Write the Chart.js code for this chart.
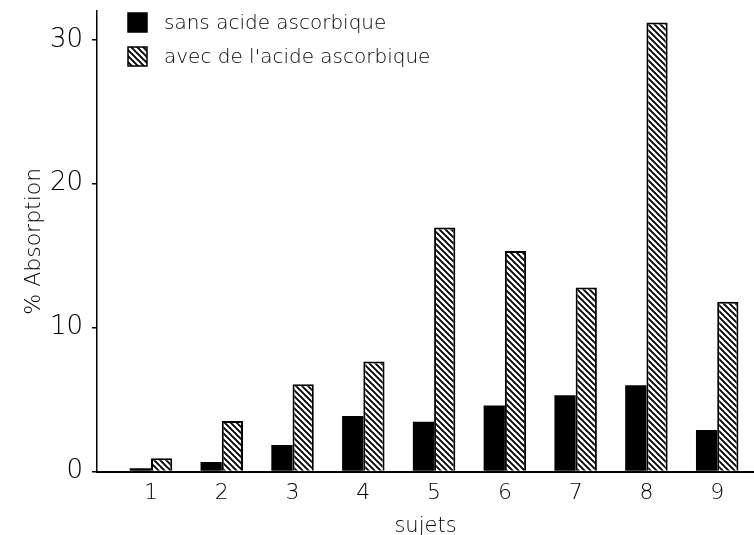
<!DOCTYPE html>
<html>
<head>
<meta charset="utf-8">
<script src="https://cdn.jsdelivr.net/npm/chart.js@4"></script>
<style>
  html, body { margin: 0; padding: 0; background: #fff; overflow: hidden; }
  #wrap { width: 754px; height: 535px; }
</style>
</head>
<body>
<div id="wrap"><canvas id="chart" width="754" height="535"></canvas></div>
<script>
const subjects   = [1, 2, 3, 4, 5, 6, 7, 8, 9];
const sansAcide  = [0.22, 0.66, 1.84, 3.86, 3.46, 4.58, 5.3, 6.0, 2.89];
const avecAcide  = [0.92, 3.51, 6.06, 7.64, 16.95, 15.33, 12.78, 31.2, 11.8];
const yTicks     = [0, 10, 20, 30];
const seriesNames = ['sans acide ascorbique', "avec de l'acide ascorbique"];

const FONT = '"DejaVu Sans", sans-serif';
const W = 200; // thin weight, like the printed figure

// diagonal hatch like the printed figure
function hatch() {
  const c = document.createElement('canvas');
  c.width = 6; c.height = 6;
  const g = c.getContext('2d');
  g.fillStyle = '#fff';
  g.fillRect(0, 0, 6, 6);
  g.strokeStyle = '#000';
  g.lineWidth = 1.9;
  g.beginPath();
  g.moveTo(-1, -1); g.lineTo(7, 7);
  g.moveTo(-4, 2); g.lineTo(4, 10);
  g.moveTo(2, -4); g.lineTo(10, 4);
  g.stroke();
  return g.createPattern(c, 'repeat');
}
const hatchFill = hatch();

const legendInside = {
  id: 'legendInside',
  afterDraw(chart) {
    const ctx = chart.ctx;
    ctx.save();
    chart.data.datasets.forEach(function (ds, i) {
      const x = 128, y = 13 + i * 34;
      ctx.fillStyle = ds.backgroundColor;
      ctx.fillRect(x, y, 19, 19);
      ctx.strokeStyle = '#000';
      ctx.lineWidth = 1.5;
      ctx.strokeRect(x, y, 19, 19);
      ctx.fillStyle = '#000';
      ctx.font = W + ' 20px ' + FONT;
      ctx.textBaseline = 'middle';
      ctx.fillText(ds.label, 164, y + 11);
    });
    ctx.restore();
  }
};

new Chart(document.getElementById('chart').getContext('2d'), {
  type: 'bar',
  data: {
    datasets: [
      {
        label: seriesNames[0],
        data: subjects.map((s, i) => ({ x: s, y: sansAcide[i] })),
        backgroundColor: '#000',
        borderWidth: 0,
      },
      {
        label: seriesNames[1],
        data: subjects.map((s, i) => ({ x: s, y: avecAcide[i] })),
        backgroundColor: hatchFill,
        borderColor: '#000',
        borderWidth: 2,
      },
    ],
  },
  options: {
    responsive: false,
    animation: false,
    devicePixelRatio: 1,
    layout: { padding: { top: 11, left: 0, right: 0, bottom: 0 } },
    datasets: { bar: { categoryPercentage: 0.6, barPercentage: 1.0 } },
    plugins: { legend: { display: false }, tooltip: { enabled: false } },
    scales: {
      x: {
        type: 'linear',
        offset: false,
        min: 0.237,
        max: 9.52,
        afterBuildTicks: s => { s.ticks = subjects.map(v => ({ value: v })); },
        afterFit: s => { s.height = 63.5; s.paddingLeft = 0; s.paddingRight = 0; },
        grid: { display: false },
        border: { display: true, color: '#000', width: 2 },
        ticks: { color: '#000', padding: 1, font: { family: FONT, size: 22, weight: W } },
        title: {
          display: true, text: 'sujets', color: '#000', padding: { top: 0, bottom: 0 },
          font: { family: FONT, size: 21, weight: W, lineHeight: 0.8 },
        },
      },
      y: {
        min: 0,
        max: 32,
        afterBuildTicks: s => { s.ticks = yTicks.map(v => ({ value: v })); },
        afterFit: s => { s.width = 97; s.paddingTop = 0; s.paddingBottom = 0; },
        grid: { drawOnChartArea: false, drawTicks: true, tickLength: 5, color: '#000', lineWidth: 1.5 },
        border: { display: true, color: '#000', width: 1.5, dash: [8, 3] },
        ticks: { color: '#000', padding: 9, font: { family: FONT, size: 26, weight: W } },
        title: {
          display: true, text: '% Absorption', color: '#000', padding: { top: 21, bottom: 0 },
          font: { family: FONT, size: 22, weight: W },
        },
      },
    },
  },
  plugins: [legendInside],
});
</script>
</body>
</html>
